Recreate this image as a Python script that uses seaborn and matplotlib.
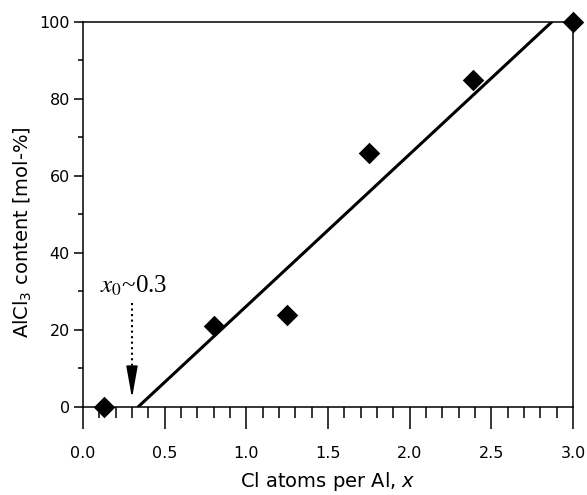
import numpy as np
import pandas as pd
import matplotlib
matplotlib.use("Agg")
import matplotlib.pyplot as plt
from matplotlib.ticker import MultipleLocator
import seaborn as sns

# measured points
cl_per_al = [0.13, 0.80, 1.25, 1.75, 2.39, 3.00]
alcl3_content = [0.0, 21.0, 24.0, 66.0, 85.0, 100.0]

# linear fit drawn in the figure
fit_x = [0.337, 2.87]
fit_y = [0.0, 100.0]

# x0 marker
x0 = 0.3
x0_label = r"$x_0$~0.3"

xticks = [0.0, 0.5, 1.0, 1.5, 2.0, 2.5, 3.0]
yticks = [0, 20, 40, 60, 80, 100]

sns.set_style("ticks")
plt.rcParams['font.family'] = ['DejaVu Sans']
plt.rcParams['text.color'] = 'black'
plt.rcParams['axes.labelcolor'] = 'black'
plt.rcParams['xtick.color'] = 'black'
plt.rcParams['ytick.color'] = 'black'

df = pd.DataFrame({"x": cl_per_al, "y": alcl3_content})
fit = pd.DataFrame({"x": fit_x, "y": fit_y})

fig = plt.figure(figsize=(5.87, 4.95), dpi=100)
ax = fig.add_axes([0.1414, 0.1778, 0.8347, 0.7778])

sns.lineplot(data=fit, x="x", y="y", ax=ax, color="black", linewidth=2.2)
sns.scatterplot(data=df, x="x", y="y", ax=ax, marker="D", s=120, color="black",
                edgecolor="black", linewidth=0, zorder=5, clip_on=False)

ax.set_xlim(0, 3)
ax.set_ylim(0, 100)
ax.set_xticks(xticks)
ax.set_xticklabels([f"{t:.1f}" for t in xticks])
ax.set_yticks(yticks)
ax.xaxis.set_minor_locator(MultipleLocator(0.1))
ax.yaxis.set_minor_locator(MultipleLocator(10))

ax.tick_params(axis="x", which="major", direction="out", length=16, width=1.1,
               pad=12, labelsize=11.5, colors="black")
ax.tick_params(axis="x", which="minor", direction="out", length=8, width=1.1)
ax.tick_params(axis="y", which="major", direction="out", length=6.5, width=1.1,
               pad=3, labelsize=11.5, colors="black")
ax.tick_params(axis="y", which="minor", direction="out", length=3.5, width=1.1)

for sp in ax.spines.values():
    sp.set_visible(True)
    sp.set_linewidth(1.1)
    sp.set_color("black")

ax.set_xlabel("Cl atoms per Al, $x$", fontsize=14, math_fontfamily="dejavusans",
              color="black")
ax.set_ylabel("AlCl$_3$ content [mol-%]", fontsize=14, math_fontfamily="dejavusans",
              color="black")
ax.xaxis.set_label_coords(0.5, -0.163)
ax.yaxis.set_label_coords(-0.1, 0.455)

# dotted guide with arrow head pointing at x0
ax.plot([x0, x0], [27, 8], color="black", linestyle=":", linewidth=1.5)
ax.annotate("", xy=(x0, 2.3), xytext=(x0, 8),
            arrowprops=dict(arrowstyle="-|>,head_length=1.4,head_width=0.25",
                            color="black", linewidth=1.2, shrinkA=0, shrinkB=0,
                            mutation_scale=14))
ax.text(0.31, 29.8, x0_label, ha="center", va="baseline", fontsize=18,
        family="Liberation Serif", math_fontfamily="stix", color="black")

fig.savefig("out.png", dpi=100)
